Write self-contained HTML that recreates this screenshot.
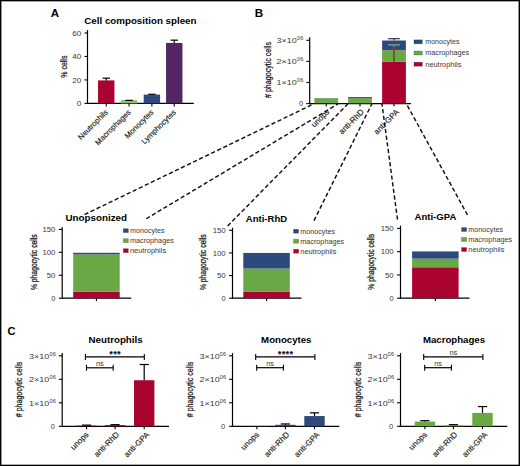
<!DOCTYPE html>
<html><head><meta charset="utf-8"><style>
html,body{margin:0;padding:0;background:#fff;}
#fig{position:relative;width:520px;height:466px;overflow:hidden;background:#fff;}
#fig svg{position:absolute;left:0;top:0;}
#frame{position:absolute;left:0;top:0;width:520px;height:466px;box-sizing:border-box;border:1px solid #000;box-shadow:inset 0 0 0 0.6px #555;}
text{font-family:"Liberation Sans",sans-serif;}
</style></head><body>
<div id="fig">
<svg width="520" height="466" viewBox="0 0 520 466" font-family="Liberation Sans, sans-serif">
<text x="50.80" y="17.30" font-size="10.2" font-weight="bold" text-anchor="start" fill="#000" textLength="8.30" lengthAdjust="spacingAndGlyphs">A</text>
<text x="84.30" y="24.40" font-size="8.8" font-weight="bold" text-anchor="start" fill="#000" textLength="112.20" lengthAdjust="spacingAndGlyphs">Cell composition spleen</text>
<line x1="87.50" y1="30.10" x2="87.50" y2="104.00" stroke="#000" stroke-width="1.2"/>
<line x1="84.50" y1="103.40" x2="87.50" y2="103.40" stroke="#000" stroke-width="1.1"/>
<text x="81.30" y="106.05" font-size="7.4" text-anchor="end" fill="#383838" textLength="4.50" lengthAdjust="spacingAndGlyphs">0</text>
<line x1="84.50" y1="79.93" x2="87.50" y2="79.93" stroke="#000" stroke-width="1.1"/>
<text x="81.30" y="82.58" font-size="7.4" text-anchor="end" fill="#383838" textLength="9.00" lengthAdjust="spacingAndGlyphs">20</text>
<line x1="84.50" y1="56.47" x2="87.50" y2="56.47" stroke="#000" stroke-width="1.1"/>
<text x="81.30" y="59.12" font-size="7.4" text-anchor="end" fill="#383838" textLength="9.00" lengthAdjust="spacingAndGlyphs">40</text>
<line x1="84.50" y1="33.00" x2="87.50" y2="33.00" stroke="#000" stroke-width="1.1"/>
<text x="81.30" y="35.65" font-size="7.4" text-anchor="end" fill="#383838" textLength="9.00" lengthAdjust="spacingAndGlyphs">60</text>
<text transform="translate(66.60,66.70) rotate(-90)" font-size="9.4" text-anchor="middle" fill="#151515" stroke="#151515" stroke-width="0.25" textLength="22.20" lengthAdjust="spacingAndGlyphs">% cells</text>
<line x1="87.50" y1="103.40" x2="193.80" y2="103.40" stroke="#000" stroke-width="1.3"/>
<rect x="98.05" y="80.40" width="16.40" height="23.00" fill="#ab0330"/>
<line x1="106.25" y1="80.40" x2="106.25" y2="78.17" stroke="#000" stroke-width="1.2"/>
<line x1="102.55" y1="78.17" x2="109.95" y2="78.17" stroke="#000" stroke-width="1.2"/>
<line x1="106.25" y1="103.40" x2="106.25" y2="106.40" stroke="#000" stroke-width="1.1"/>
<text transform="translate(108.45,112.70) rotate(-45)" font-size="7.7" text-anchor="end" fill="#1a1a1a" stroke="#1a1a1a" stroke-width="0.15">Neutrophils</text>
<rect x="120.80" y="100.11" width="16.40" height="3.29" fill="#88c070"/>
<line x1="129.00" y1="100.11" x2="129.00" y2="100.35" stroke="#000" stroke-width="1.2"/>
<line x1="125.30" y1="100.35" x2="132.70" y2="100.35" stroke="#000" stroke-width="1.2"/>
<line x1="129.00" y1="103.40" x2="129.00" y2="106.40" stroke="#000" stroke-width="1.1"/>
<text transform="translate(131.20,112.70) rotate(-45)" font-size="7.7" text-anchor="end" fill="#1a1a1a" stroke="#1a1a1a" stroke-width="0.15">Macrophages</text>
<rect x="143.70" y="94.60" width="16.40" height="8.80" fill="#2d4a7c"/>
<line x1="151.90" y1="94.60" x2="151.90" y2="94.25" stroke="#000" stroke-width="1.2"/>
<line x1="148.20" y1="94.25" x2="155.60" y2="94.25" stroke="#000" stroke-width="1.2"/>
<line x1="151.90" y1="103.40" x2="151.90" y2="106.40" stroke="#000" stroke-width="1.1"/>
<text transform="translate(154.10,112.70) rotate(-45)" font-size="7.7" text-anchor="end" fill="#1a1a1a" stroke="#1a1a1a" stroke-width="0.15">Monocytes</text>
<rect x="166.05" y="42.97" width="16.40" height="60.43" fill="#522662"/>
<line x1="174.25" y1="42.97" x2="174.25" y2="40.16" stroke="#000" stroke-width="1.2"/>
<line x1="170.55" y1="40.16" x2="177.95" y2="40.16" stroke="#000" stroke-width="1.2"/>
<line x1="174.25" y1="103.40" x2="174.25" y2="106.40" stroke="#000" stroke-width="1.1"/>
<text transform="translate(176.45,112.70) rotate(-45)" font-size="7.7" text-anchor="end" fill="#1a1a1a" stroke="#1a1a1a" stroke-width="0.15">Lymphocytes</text>
<text x="254.80" y="17.10" font-size="10.4" font-weight="bold" text-anchor="start" fill="#000" textLength="8.40" lengthAdjust="spacingAndGlyphs">B</text>
<line x1="309.70" y1="37.30" x2="309.70" y2="104.20" stroke="#000" stroke-width="1.2"/>
<line x1="306.30" y1="82.50" x2="309.70" y2="82.50" stroke="#000" stroke-width="1.1"/>
<text x="276.60" y="85.20" font-size="7.2" text-anchor="start" fill="#383838" textLength="20.30" lengthAdjust="spacingAndGlyphs">1×10</text>
<text x="297.00" y="82.40" font-size="5.5" text-anchor="start" fill="#383838" textLength="6.30" lengthAdjust="spacingAndGlyphs">06</text>
<line x1="306.30" y1="61.40" x2="309.70" y2="61.40" stroke="#000" stroke-width="1.1"/>
<text x="276.60" y="64.10" font-size="7.2" text-anchor="start" fill="#383838" textLength="20.30" lengthAdjust="spacingAndGlyphs">2×10</text>
<text x="297.00" y="61.30" font-size="5.5" text-anchor="start" fill="#383838" textLength="6.30" lengthAdjust="spacingAndGlyphs">06</text>
<line x1="306.30" y1="40.30" x2="309.70" y2="40.30" stroke="#000" stroke-width="1.1"/>
<text x="276.60" y="43.00" font-size="7.2" text-anchor="start" fill="#383838" textLength="20.30" lengthAdjust="spacingAndGlyphs">3×10</text>
<text x="297.00" y="40.20" font-size="5.5" text-anchor="start" fill="#383838" textLength="6.30" lengthAdjust="spacingAndGlyphs">06</text>
<line x1="306.30" y1="103.60" x2="309.70" y2="103.60" stroke="#000" stroke-width="1.1"/>
<text x="303.00" y="106.20" font-size="7.4" text-anchor="end" fill="#383838">0</text>
<text transform="translate(270.60,70.00) rotate(-90)" font-size="9.4" text-anchor="middle" fill="#151515" stroke="#151515" stroke-width="0.25" textLength="56.00" lengthAdjust="spacingAndGlyphs"># phagocytic cells</text>
<line x1="309.70" y1="103.60" x2="410.90" y2="103.60" stroke="#000" stroke-width="1.3"/>
<rect x="314.35" y="102.97" width="23.80" height="0.63" fill="#ab0330"/>
<rect x="314.35" y="98.33" width="23.80" height="4.64" fill="#69a844"/>
<rect x="314.35" y="98.11" width="23.80" height="0.21" fill="#2d4a7c"/>
<line x1="326.25" y1="103.60" x2="326.25" y2="106.60" stroke="#000" stroke-width="1.1"/>
<text transform="translate(329.95,112.40) rotate(-45)" font-size="8.0" text-anchor="end" fill="#1a1a1a" stroke="#1a1a1a" stroke-width="0.15">unops</text>
<rect x="348.10" y="103.18" width="23.80" height="0.42" fill="#ab0330"/>
<rect x="348.10" y="98.11" width="23.80" height="5.06" fill="#69a844"/>
<rect x="348.10" y="97.06" width="23.80" height="1.06" fill="#2d4a7c"/>
<line x1="360.00" y1="103.60" x2="360.00" y2="106.60" stroke="#000" stroke-width="1.1"/>
<text transform="translate(364.40,112.40) rotate(-45)" font-size="8.0" text-anchor="end" fill="#1a1a1a" stroke="#1a1a1a" stroke-width="0.15">anti-RhD</text>
<rect x="382.10" y="61.82" width="23.80" height="41.78" fill="#ab0330"/>
<rect x="382.10" y="50.22" width="23.80" height="11.60" fill="#69a844"/>
<rect x="382.10" y="40.51" width="23.80" height="9.71" fill="#2d4a7c"/>
<line x1="394.00" y1="103.60" x2="394.00" y2="106.60" stroke="#000" stroke-width="1.1"/>
<text transform="translate(399.60,112.40) rotate(-45)" font-size="8.0" text-anchor="end" fill="#1a1a1a" stroke="#1a1a1a" stroke-width="0.15">anti-GPA</text>
<line x1="394.00" y1="40.50" x2="394.00" y2="38.70" stroke="#333" stroke-width="1.2"/>
<line x1="388.20" y1="38.70" x2="399.80" y2="38.70" stroke="#333" stroke-width="1.2"/>
<line x1="388.00" y1="44.90" x2="400.00" y2="44.90" stroke="#9ab39a" stroke-width="1.1"/>
<line x1="394.00" y1="44.90" x2="394.00" y2="47.50" stroke="#7f8f70" stroke-width="1.2"/>
<line x1="392.00" y1="48.40" x2="397.00" y2="48.40" stroke="#6a3050" stroke-width="0.9"/>
<line x1="394.00" y1="47.50" x2="394.00" y2="61.80" stroke="#65561c" stroke-width="1.7"/>
<rect x="414.00" y="39.85" width="8.30" height="3.95" fill="#2d4a7c" stroke="#000" stroke-opacity="0.3" stroke-width="0.7"/>
<text x="425.30" y="44.10" font-size="7.2" text-anchor="start" fill="#383838" textLength="34.20" lengthAdjust="spacingAndGlyphs">monocytes</text>
<rect x="414.00" y="51.05" width="8.30" height="3.95" fill="#69a844" stroke="#000" stroke-opacity="0.3" stroke-width="0.7"/>
<text x="425.30" y="55.30" font-size="7.2" text-anchor="start" fill="#383838" textLength="43.80" lengthAdjust="spacingAndGlyphs">macrophages</text>
<rect x="414.00" y="62.25" width="8.30" height="3.95" fill="#ab0330" stroke="#000" stroke-opacity="0.3" stroke-width="0.7"/>
<text x="425.30" y="66.50" font-size="7.2" text-anchor="start" fill="#383838" textLength="36.10" lengthAdjust="spacingAndGlyphs">neutrophils</text>
<line x1="84.50" y1="214.60" x2="313.50" y2="104.00" stroke="#111" stroke-width="1.45" stroke-dasharray="4.2 2.5"/>
<line x1="146.25" y1="218.75" x2="338.00" y2="104.00" stroke="#111" stroke-width="1.45" stroke-dasharray="4.2 2.5"/>
<line x1="227.60" y1="226.00" x2="347.80" y2="104.00" stroke="#111" stroke-width="1.45" stroke-dasharray="4.2 2.5"/>
<line x1="314.00" y1="220.60" x2="371.80" y2="104.00" stroke="#111" stroke-width="1.45" stroke-dasharray="4.2 2.5"/>
<line x1="397.50" y1="219.50" x2="382.00" y2="104.00" stroke="#111" stroke-width="1.45" stroke-dasharray="4.2 2.5"/>
<line x1="467.50" y1="215.00" x2="406.50" y2="104.00" stroke="#111" stroke-width="1.45" stroke-dasharray="4.2 2.5"/>
<text x="65.50" y="221.30" font-size="8.8" font-weight="bold" text-anchor="start" fill="#000" textLength="61.50" lengthAdjust="spacingAndGlyphs">Unopsonized</text>
<line x1="62.20" y1="227.30" x2="62.20" y2="298.80" stroke="#000" stroke-width="1.2"/>
<line x1="58.80" y1="298.20" x2="62.20" y2="298.20" stroke="#000" stroke-width="1.1"/>
<text x="55.30" y="300.85" font-size="7.4" text-anchor="end" fill="#383838">0</text>
<line x1="58.80" y1="275.27" x2="62.20" y2="275.27" stroke="#000" stroke-width="1.1"/>
<text x="55.30" y="277.92" font-size="7.4" text-anchor="end" fill="#383838" textLength="8.60" lengthAdjust="spacingAndGlyphs">50</text>
<line x1="58.80" y1="252.33" x2="62.20" y2="252.33" stroke="#000" stroke-width="1.1"/>
<text x="55.30" y="254.98" font-size="7.4" text-anchor="end" fill="#383838" textLength="12.90" lengthAdjust="spacingAndGlyphs">100</text>
<line x1="58.80" y1="229.40" x2="62.20" y2="229.40" stroke="#000" stroke-width="1.1"/>
<text x="55.30" y="232.05" font-size="7.4" text-anchor="end" fill="#383838" textLength="12.90" lengthAdjust="spacingAndGlyphs">150</text>
<text transform="translate(36.50,262.20) rotate(-90)" font-size="8.5" text-anchor="middle" fill="#151515" stroke="#151515" stroke-width="0.25" textLength="55.80" lengthAdjust="spacingAndGlyphs">% phagocytic cells</text>
<line x1="62.20" y1="298.20" x2="131.20" y2="298.20" stroke="#000" stroke-width="1.3"/>
<rect x="73.20" y="291.78" width="46.50" height="6.42" fill="#ab0330"/>
<rect x="73.20" y="254.40" width="46.50" height="37.38" fill="#69a844"/>
<rect x="73.20" y="252.79" width="46.50" height="1.61" fill="#2d4a7c"/>
<line x1="96.45" y1="298.20" x2="96.45" y2="301.00" stroke="#000" stroke-width="1.1"/>
<rect x="123.30" y="228.70" width="5.00" height="3.90" fill="#2d4a7c" stroke="#000" stroke-opacity="0.3" stroke-width="0.7"/>
<text x="130.00" y="233.00" font-size="7.2" text-anchor="start" fill="#383838" textLength="34.70" lengthAdjust="spacingAndGlyphs">monocytes</text>
<rect x="123.30" y="238.70" width="5.00" height="3.90" fill="#69a844" stroke="#000" stroke-opacity="0.3" stroke-width="0.7"/>
<text x="130.00" y="243.00" font-size="7.2" text-anchor="start" fill="#383838" textLength="43.80" lengthAdjust="spacingAndGlyphs">macrophages</text>
<rect x="123.30" y="248.70" width="5.00" height="3.90" fill="#ab0330" stroke="#000" stroke-opacity="0.3" stroke-width="0.7"/>
<text x="130.00" y="253.00" font-size="7.2" text-anchor="start" fill="#383838" textLength="36.10" lengthAdjust="spacingAndGlyphs">neutrophils</text>
<text x="245.80" y="221.80" font-size="8.8" font-weight="bold" text-anchor="start" fill="#000" textLength="41.30" lengthAdjust="spacingAndGlyphs">Anti-RhD</text>
<line x1="232.50" y1="227.70" x2="232.50" y2="298.80" stroke="#000" stroke-width="1.2"/>
<line x1="229.10" y1="298.20" x2="232.50" y2="298.20" stroke="#000" stroke-width="1.1"/>
<text x="225.60" y="300.85" font-size="7.4" text-anchor="end" fill="#383838">0</text>
<line x1="229.10" y1="275.57" x2="232.50" y2="275.57" stroke="#000" stroke-width="1.1"/>
<text x="225.60" y="278.22" font-size="7.4" text-anchor="end" fill="#383838" textLength="8.60" lengthAdjust="spacingAndGlyphs">50</text>
<line x1="229.10" y1="252.93" x2="232.50" y2="252.93" stroke="#000" stroke-width="1.1"/>
<text x="225.60" y="255.58" font-size="7.4" text-anchor="end" fill="#383838" textLength="12.90" lengthAdjust="spacingAndGlyphs">100</text>
<line x1="229.10" y1="230.30" x2="232.50" y2="230.30" stroke="#000" stroke-width="1.1"/>
<text x="225.60" y="232.95" font-size="7.4" text-anchor="end" fill="#383838" textLength="12.90" lengthAdjust="spacingAndGlyphs">150</text>
<text transform="translate(206.00,262.20) rotate(-90)" font-size="8.5" text-anchor="middle" fill="#151515" stroke="#151515" stroke-width="0.25" textLength="55.80" lengthAdjust="spacingAndGlyphs">% phagocytic cells</text>
<line x1="232.50" y1="298.20" x2="301.50" y2="298.20" stroke="#000" stroke-width="1.3"/>
<rect x="243.30" y="291.86" width="46.50" height="6.34" fill="#ab0330"/>
<rect x="243.30" y="268.55" width="46.50" height="23.31" fill="#69a844"/>
<rect x="243.30" y="252.93" width="46.50" height="15.62" fill="#2d4a7c"/>
<line x1="266.55" y1="298.20" x2="266.55" y2="301.00" stroke="#000" stroke-width="1.1"/>
<rect x="293.60" y="229.30" width="5.00" height="3.90" fill="#2d4a7c" stroke="#000" stroke-opacity="0.3" stroke-width="0.7"/>
<text x="300.30" y="233.60" font-size="7.2" text-anchor="start" fill="#383838" textLength="34.70" lengthAdjust="spacingAndGlyphs">monocytes</text>
<rect x="293.60" y="239.30" width="5.00" height="3.90" fill="#69a844" stroke="#000" stroke-opacity="0.3" stroke-width="0.7"/>
<text x="300.30" y="243.60" font-size="7.2" text-anchor="start" fill="#383838" textLength="43.80" lengthAdjust="spacingAndGlyphs">macrophages</text>
<rect x="293.60" y="249.30" width="5.00" height="3.90" fill="#ab0330" stroke="#000" stroke-opacity="0.3" stroke-width="0.7"/>
<text x="300.30" y="253.60" font-size="7.2" text-anchor="start" fill="#383838" textLength="36.10" lengthAdjust="spacingAndGlyphs">neutrophils</text>
<text x="414.50" y="220.00" font-size="8.8" font-weight="bold" text-anchor="start" fill="#000" textLength="41.80" lengthAdjust="spacingAndGlyphs">Anti-GPA</text>
<line x1="400.50" y1="225.70" x2="400.50" y2="298.80" stroke="#000" stroke-width="1.2"/>
<line x1="397.10" y1="298.20" x2="400.50" y2="298.20" stroke="#000" stroke-width="1.1"/>
<text x="393.60" y="300.85" font-size="7.4" text-anchor="end" fill="#383838">0</text>
<line x1="397.10" y1="274.93" x2="400.50" y2="274.93" stroke="#000" stroke-width="1.1"/>
<text x="393.60" y="277.58" font-size="7.4" text-anchor="end" fill="#383838" textLength="8.60" lengthAdjust="spacingAndGlyphs">50</text>
<line x1="397.10" y1="251.67" x2="400.50" y2="251.67" stroke="#000" stroke-width="1.1"/>
<text x="393.60" y="254.32" font-size="7.4" text-anchor="end" fill="#383838" textLength="12.90" lengthAdjust="spacingAndGlyphs">100</text>
<line x1="397.10" y1="228.40" x2="400.50" y2="228.40" stroke="#000" stroke-width="1.1"/>
<text x="393.60" y="231.05" font-size="7.4" text-anchor="end" fill="#383838" textLength="12.90" lengthAdjust="spacingAndGlyphs">150</text>
<text transform="translate(373.60,261.80) rotate(-90)" font-size="8.5" text-anchor="middle" fill="#151515" stroke="#151515" stroke-width="0.25" textLength="55.80" lengthAdjust="spacingAndGlyphs">% phagocytic cells</text>
<line x1="400.50" y1="298.20" x2="469.50" y2="298.20" stroke="#000" stroke-width="1.3"/>
<rect x="412.10" y="267.26" width="46.50" height="30.94" fill="#ab0330"/>
<rect x="412.10" y="258.65" width="46.50" height="8.61" fill="#69a844"/>
<rect x="412.10" y="251.43" width="46.50" height="7.21" fill="#2d4a7c"/>
<line x1="435.35" y1="298.20" x2="435.35" y2="301.00" stroke="#000" stroke-width="1.1"/>
<rect x="461.60" y="227.60" width="5.00" height="3.90" fill="#2d4a7c" stroke="#000" stroke-opacity="0.3" stroke-width="0.7"/>
<text x="468.30" y="231.90" font-size="7.2" text-anchor="start" fill="#383838" textLength="34.70" lengthAdjust="spacingAndGlyphs">monocytes</text>
<rect x="461.60" y="237.60" width="5.00" height="3.90" fill="#69a844" stroke="#000" stroke-opacity="0.3" stroke-width="0.7"/>
<text x="468.30" y="241.90" font-size="7.2" text-anchor="start" fill="#383838" textLength="43.80" lengthAdjust="spacingAndGlyphs">macrophages</text>
<rect x="461.60" y="247.60" width="5.00" height="3.90" fill="#ab0330" stroke="#000" stroke-opacity="0.3" stroke-width="0.7"/>
<text x="468.30" y="251.90" font-size="7.2" text-anchor="start" fill="#383838" textLength="36.10" lengthAdjust="spacingAndGlyphs">neutrophils</text>
<text x="7.50" y="335.30" font-size="10.4" font-weight="bold" text-anchor="start" fill="#000" textLength="8.00" lengthAdjust="spacingAndGlyphs">C</text>
<text x="88.50" y="342.90" font-size="8.8" font-weight="bold" text-anchor="start" fill="#000" textLength="54.10" lengthAdjust="spacingAndGlyphs">Neutrophils</text>
<line x1="62.20" y1="353.10" x2="62.20" y2="426.90" stroke="#000" stroke-width="1.2"/>
<line x1="58.80" y1="402.80" x2="62.20" y2="402.80" stroke="#000" stroke-width="1.1"/>
<text x="29.10" y="405.50" font-size="7.2" text-anchor="start" fill="#383838" textLength="20.30" lengthAdjust="spacingAndGlyphs">1×10</text>
<text x="49.50" y="402.70" font-size="5.5" text-anchor="start" fill="#383838" textLength="6.30" lengthAdjust="spacingAndGlyphs">06</text>
<line x1="58.80" y1="379.30" x2="62.20" y2="379.30" stroke="#000" stroke-width="1.1"/>
<text x="29.10" y="382.00" font-size="7.2" text-anchor="start" fill="#383838" textLength="20.30" lengthAdjust="spacingAndGlyphs">2×10</text>
<text x="49.50" y="379.20" font-size="5.5" text-anchor="start" fill="#383838" textLength="6.30" lengthAdjust="spacingAndGlyphs">06</text>
<line x1="58.80" y1="355.80" x2="62.20" y2="355.80" stroke="#000" stroke-width="1.1"/>
<text x="29.10" y="358.50" font-size="7.2" text-anchor="start" fill="#383838" textLength="20.30" lengthAdjust="spacingAndGlyphs">3×10</text>
<text x="49.50" y="355.70" font-size="5.5" text-anchor="start" fill="#383838" textLength="6.30" lengthAdjust="spacingAndGlyphs">06</text>
<line x1="58.80" y1="426.30" x2="62.20" y2="426.30" stroke="#000" stroke-width="1.1"/>
<text x="54.80" y="428.90" font-size="7.4" text-anchor="end" fill="#383838">0</text>
<text transform="translate(22.20,389.40) rotate(-90)" font-size="9.2" text-anchor="middle" fill="#151515" stroke="#151515" stroke-width="0.25" textLength="55.50" lengthAdjust="spacingAndGlyphs"># phagocytic cells</text>
<line x1="62.20" y1="426.30" x2="169.00" y2="426.30" stroke="#000" stroke-width="1.3"/>
<rect x="76.40" y="425.60" width="20.40" height="0.70" fill="#ab0330"/>
<line x1="86.60" y1="425.60" x2="86.60" y2="425.12" stroke="#000" stroke-width="1.2"/>
<line x1="82.00" y1="425.12" x2="91.20" y2="425.12" stroke="#000" stroke-width="1.2"/>
<line x1="86.60" y1="426.30" x2="86.60" y2="429.30" stroke="#000" stroke-width="1.1"/>
<text transform="translate(89.20,435.10) rotate(-45)" font-size="8.0" text-anchor="end" fill="#1a1a1a" stroke="#1a1a1a" stroke-width="0.15">unops</text>
<rect x="104.90" y="425.12" width="20.40" height="1.18" fill="#ab0330"/>
<line x1="115.10" y1="425.12" x2="115.10" y2="424.66" stroke="#000" stroke-width="1.2"/>
<line x1="110.50" y1="424.66" x2="119.70" y2="424.66" stroke="#000" stroke-width="1.2"/>
<line x1="115.10" y1="426.30" x2="115.10" y2="429.30" stroke="#000" stroke-width="1.1"/>
<text transform="translate(119.50,435.10) rotate(-45)" font-size="8.0" text-anchor="end" fill="#1a1a1a" stroke="#1a1a1a" stroke-width="0.15">anti-RhD</text>
<rect x="134.00" y="380.24" width="20.40" height="46.06" fill="#ab0330"/>
<line x1="144.20" y1="380.24" x2="144.20" y2="364.50" stroke="#000" stroke-width="1.2"/>
<line x1="139.60" y1="364.50" x2="148.80" y2="364.50" stroke="#000" stroke-width="1.2"/>
<line x1="144.20" y1="426.30" x2="144.20" y2="429.30" stroke="#000" stroke-width="1.1"/>
<text transform="translate(149.80,435.10) rotate(-45)" font-size="8.0" text-anchor="end" fill="#1a1a1a" stroke="#1a1a1a" stroke-width="0.15">anti-GPA</text>
<line x1="85.40" y1="356.90" x2="144.30" y2="356.90" stroke="#000" stroke-width="1.2"/>
<line x1="85.40" y1="353.90" x2="85.40" y2="359.90" stroke="#000" stroke-width="1.1"/>
<line x1="144.30" y1="353.90" x2="144.30" y2="359.90" stroke="#000" stroke-width="1.1"/>
<text x="115.35" y="357.00" font-size="8.2" font-weight="bold" letter-spacing="0.7" text-anchor="middle" fill="#111" stroke="#111" stroke-width="0.2">***</text>
<line x1="86.50" y1="367.80" x2="113.20" y2="367.80" stroke="#000" stroke-width="1.2"/>
<line x1="86.50" y1="364.80" x2="86.50" y2="370.80" stroke="#000" stroke-width="1.1"/>
<line x1="113.20" y1="364.80" x2="113.20" y2="370.80" stroke="#000" stroke-width="1.1"/>
<text x="99.85" y="365.90" font-size="7.4" text-anchor="middle" fill="#383838">ns</text>
<text x="261.10" y="342.90" font-size="8.8" font-weight="bold" text-anchor="start" fill="#000" textLength="50.40" lengthAdjust="spacingAndGlyphs">Monocytes</text>
<line x1="232.50" y1="353.10" x2="232.50" y2="426.90" stroke="#000" stroke-width="1.2"/>
<line x1="229.10" y1="402.80" x2="232.50" y2="402.80" stroke="#000" stroke-width="1.1"/>
<text x="199.40" y="405.50" font-size="7.2" text-anchor="start" fill="#383838" textLength="20.30" lengthAdjust="spacingAndGlyphs">1×10</text>
<text x="219.80" y="402.70" font-size="5.5" text-anchor="start" fill="#383838" textLength="6.30" lengthAdjust="spacingAndGlyphs">06</text>
<line x1="229.10" y1="379.30" x2="232.50" y2="379.30" stroke="#000" stroke-width="1.1"/>
<text x="199.40" y="382.00" font-size="7.2" text-anchor="start" fill="#383838" textLength="20.30" lengthAdjust="spacingAndGlyphs">2×10</text>
<text x="219.80" y="379.20" font-size="5.5" text-anchor="start" fill="#383838" textLength="6.30" lengthAdjust="spacingAndGlyphs">06</text>
<line x1="229.10" y1="355.80" x2="232.50" y2="355.80" stroke="#000" stroke-width="1.1"/>
<text x="199.40" y="358.50" font-size="7.2" text-anchor="start" fill="#383838" textLength="20.30" lengthAdjust="spacingAndGlyphs">3×10</text>
<text x="219.80" y="355.70" font-size="5.5" text-anchor="start" fill="#383838" textLength="6.30" lengthAdjust="spacingAndGlyphs">06</text>
<line x1="229.10" y1="426.30" x2="232.50" y2="426.30" stroke="#000" stroke-width="1.1"/>
<text x="225.10" y="428.90" font-size="7.4" text-anchor="end" fill="#383838">0</text>
<text transform="translate(192.50,389.40) rotate(-90)" font-size="9.2" text-anchor="middle" fill="#151515" stroke="#151515" stroke-width="0.25" textLength="55.50" lengthAdjust="spacingAndGlyphs"># phagocytic cells</text>
<line x1="232.50" y1="426.30" x2="339.30" y2="426.30" stroke="#000" stroke-width="1.3"/>
<rect x="246.70" y="426.06" width="20.40" height="0.24" fill="#2d4a7c"/>
<line x1="256.90" y1="426.30" x2="256.90" y2="429.30" stroke="#000" stroke-width="1.1"/>
<text transform="translate(259.50,435.10) rotate(-45)" font-size="8.0" text-anchor="end" fill="#1a1a1a" stroke="#1a1a1a" stroke-width="0.15">unops</text>
<rect x="275.20" y="424.80" width="20.40" height="1.50" fill="#2d4a7c"/>
<line x1="285.40" y1="424.80" x2="285.40" y2="423.95" stroke="#000" stroke-width="1.2"/>
<line x1="280.80" y1="423.95" x2="290.00" y2="423.95" stroke="#000" stroke-width="1.2"/>
<line x1="285.40" y1="426.30" x2="285.40" y2="429.30" stroke="#000" stroke-width="1.1"/>
<text transform="translate(289.80,435.10) rotate(-45)" font-size="8.0" text-anchor="end" fill="#1a1a1a" stroke="#1a1a1a" stroke-width="0.15">anti-RhD</text>
<rect x="304.30" y="416.05" width="20.40" height="10.25" fill="#2d4a7c"/>
<line x1="314.50" y1="416.05" x2="314.50" y2="412.83" stroke="#000" stroke-width="1.2"/>
<line x1="309.90" y1="412.83" x2="319.10" y2="412.83" stroke="#000" stroke-width="1.2"/>
<line x1="314.50" y1="426.30" x2="314.50" y2="429.30" stroke="#000" stroke-width="1.1"/>
<text transform="translate(320.10,435.10) rotate(-45)" font-size="8.0" text-anchor="end" fill="#1a1a1a" stroke="#1a1a1a" stroke-width="0.15">anti-GPA</text>
<line x1="255.70" y1="356.90" x2="314.90" y2="356.90" stroke="#000" stroke-width="1.2"/>
<line x1="255.70" y1="353.90" x2="255.70" y2="359.90" stroke="#000" stroke-width="1.1"/>
<line x1="314.90" y1="353.90" x2="314.90" y2="359.90" stroke="#000" stroke-width="1.1"/>
<text x="285.80" y="357.00" font-size="8.2" font-weight="bold" letter-spacing="0.7" text-anchor="middle" fill="#111" stroke="#111" stroke-width="0.2">****</text>
<line x1="256.70" y1="367.70" x2="283.40" y2="367.70" stroke="#000" stroke-width="1.2"/>
<line x1="256.70" y1="364.70" x2="256.70" y2="370.70" stroke="#000" stroke-width="1.1"/>
<line x1="283.40" y1="364.70" x2="283.40" y2="370.70" stroke="#000" stroke-width="1.1"/>
<text x="270.05" y="365.80" font-size="7.4" text-anchor="middle" fill="#383838">ns</text>
<text x="422.90" y="342.90" font-size="8.8" font-weight="bold" text-anchor="start" fill="#000" textLength="62.20" lengthAdjust="spacingAndGlyphs">Macrophages</text>
<line x1="400.50" y1="353.10" x2="400.50" y2="426.90" stroke="#000" stroke-width="1.2"/>
<line x1="397.10" y1="402.80" x2="400.50" y2="402.80" stroke="#000" stroke-width="1.1"/>
<text x="367.40" y="405.50" font-size="7.2" text-anchor="start" fill="#383838" textLength="20.30" lengthAdjust="spacingAndGlyphs">1×10</text>
<text x="387.80" y="402.70" font-size="5.5" text-anchor="start" fill="#383838" textLength="6.30" lengthAdjust="spacingAndGlyphs">06</text>
<line x1="397.10" y1="379.30" x2="400.50" y2="379.30" stroke="#000" stroke-width="1.1"/>
<text x="367.40" y="382.00" font-size="7.2" text-anchor="start" fill="#383838" textLength="20.30" lengthAdjust="spacingAndGlyphs">2×10</text>
<text x="387.80" y="379.20" font-size="5.5" text-anchor="start" fill="#383838" textLength="6.30" lengthAdjust="spacingAndGlyphs">06</text>
<line x1="397.10" y1="355.80" x2="400.50" y2="355.80" stroke="#000" stroke-width="1.1"/>
<text x="367.40" y="358.50" font-size="7.2" text-anchor="start" fill="#383838" textLength="20.30" lengthAdjust="spacingAndGlyphs">3×10</text>
<text x="387.80" y="355.70" font-size="5.5" text-anchor="start" fill="#383838" textLength="6.30" lengthAdjust="spacingAndGlyphs">06</text>
<line x1="397.10" y1="426.30" x2="400.50" y2="426.30" stroke="#000" stroke-width="1.1"/>
<text x="393.10" y="428.90" font-size="7.4" text-anchor="end" fill="#383838">0</text>
<text transform="translate(360.50,389.40) rotate(-90)" font-size="9.2" text-anchor="middle" fill="#151515" stroke="#151515" stroke-width="0.25" textLength="55.50" lengthAdjust="spacingAndGlyphs"># phagocytic cells</text>
<line x1="400.50" y1="426.30" x2="507.30" y2="426.30" stroke="#000" stroke-width="1.3"/>
<rect x="414.70" y="421.60" width="20.40" height="4.70" fill="#69a844"/>
<line x1="424.90" y1="421.60" x2="424.90" y2="420.66" stroke="#000" stroke-width="1.2"/>
<line x1="420.30" y1="420.66" x2="429.50" y2="420.66" stroke="#000" stroke-width="1.2"/>
<line x1="424.90" y1="426.30" x2="424.90" y2="429.30" stroke="#000" stroke-width="1.1"/>
<text transform="translate(427.50,435.10) rotate(-45)" font-size="8.0" text-anchor="end" fill="#1a1a1a" stroke="#1a1a1a" stroke-width="0.15">unops</text>
<rect x="443.20" y="425.36" width="20.40" height="0.94" fill="#69a844"/>
<line x1="453.40" y1="425.36" x2="453.40" y2="424.66" stroke="#000" stroke-width="1.2"/>
<line x1="448.80" y1="424.66" x2="458.00" y2="424.66" stroke="#000" stroke-width="1.2"/>
<line x1="453.40" y1="426.30" x2="453.40" y2="429.30" stroke="#000" stroke-width="1.1"/>
<text transform="translate(457.80,435.10) rotate(-45)" font-size="8.0" text-anchor="end" fill="#1a1a1a" stroke="#1a1a1a" stroke-width="0.15">anti-RhD</text>
<rect x="472.30" y="412.91" width="20.40" height="13.39" fill="#69a844"/>
<line x1="482.50" y1="412.91" x2="482.50" y2="406.56" stroke="#000" stroke-width="1.2"/>
<line x1="477.90" y1="406.56" x2="487.10" y2="406.56" stroke="#000" stroke-width="1.2"/>
<line x1="482.50" y1="426.30" x2="482.50" y2="429.30" stroke="#000" stroke-width="1.1"/>
<text transform="translate(488.10,435.10) rotate(-45)" font-size="8.0" text-anchor="end" fill="#1a1a1a" stroke="#1a1a1a" stroke-width="0.15">anti-GPA</text>
<line x1="423.70" y1="356.90" x2="482.90" y2="356.90" stroke="#000" stroke-width="1.2"/>
<line x1="423.70" y1="353.90" x2="423.70" y2="359.90" stroke="#000" stroke-width="1.1"/>
<line x1="482.90" y1="353.90" x2="482.90" y2="359.90" stroke="#000" stroke-width="1.1"/>
<text x="453.30" y="355.00" font-size="7.4" text-anchor="middle" fill="#383838">ns</text>
<line x1="424.70" y1="367.70" x2="451.40" y2="367.70" stroke="#000" stroke-width="1.2"/>
<line x1="424.70" y1="364.70" x2="424.70" y2="370.70" stroke="#000" stroke-width="1.1"/>
<line x1="451.40" y1="364.70" x2="451.40" y2="370.70" stroke="#000" stroke-width="1.1"/>
<text x="438.05" y="365.80" font-size="7.4" text-anchor="middle" fill="#383838">ns</text>
</svg>
<div id="frame"></div>
</div>
</body></html>
